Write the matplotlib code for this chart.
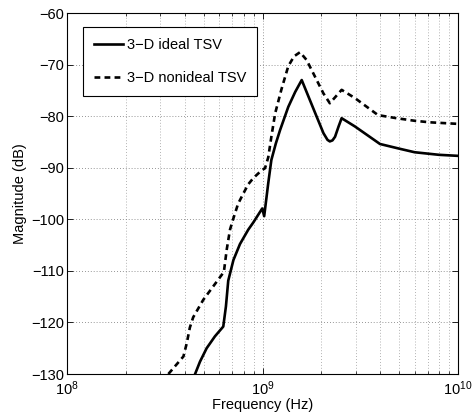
import matplotlib
matplotlib.use("Agg")
import matplotlib.pyplot as plt
import numpy as np
from matplotlib.ticker import LogLocator, MultipleLocator, NullFormatter

plt.rcParams['font.family'] = ['Liberation Sans', 'DejaVu Sans']

# Data
freq_ideal = [4.52e8, 4.79e8, 5.18e8, 5.71e8, 6.3e8, 6.5e8, 6.68e8, 7.1e8, 7.67e8,
              8.46e8, 8.98e8, 9.97e8, 1.02e9, 1.07e9, 1.11e9, 1.17e9, 1.23e9,
              1.355e9, 1.47e9, 1.587e9, 1.86e9, 2.05e9, 2.15e9, 2.21e9, 2.28e9,
              2.35e9, 2.45e9, 2.54e9, 2.97e9, 3.99e9, 5.0e9, 6.0e9, 8.0e9, 1.0e10]
mag_ideal = [-130.0, -127.6, -125.0, -122.7, -120.8, -116.9, -111.9, -107.9, -104.8,
             -102.0, -100.6, -97.9, -99.4, -93.0, -88.5, -85.3, -82.7,
             -78.2, -75.3, -73.0, -79.4, -83.3, -84.6, -84.9, -84.7,
             -84.0, -82.0, -80.4, -82.0, -85.4, -86.3, -87.0, -87.5, -87.7]

freq_nonideal = [3.3e8, 3.94e8, 4.1e8, 4.25e8, 4.42e8, 4.98e8, 5.6e8, 6.18e8, 6.35e8, 6.56e8,
                 6.82e8, 7.1e8, 7.5e8, 7.98e8, 8.46e8, 8.98e8, 9.9e8, 1.03e9,
                 1.07e9, 1.11e9, 1.16e9, 1.25e9, 1.355e9, 1.45e9, 1.556e9, 1.68e9,
                 2.05e9, 2.21e9, 2.54e9, 2.97e9, 3.9e9, 4.85e9, 6.0e9, 7.2e9, 1.0e10]
mag_nonideal = [-130.0, -126.6, -124.0, -121.0, -119.0, -115.6, -113.0, -110.8, -110.1, -105.9,
                -102.0, -99.8, -97.0, -95.0, -93.2, -92.0, -90.5, -90.1,
                -88.0, -84.0, -79.5, -74.8, -70.3, -68.4, -67.6, -69.1,
                -75.6, -77.5, -74.9, -76.5, -79.8, -80.4, -80.9, -81.2, -81.5]

labels = ['3\u2212D ideal TSV', '3\u2212D nonideal TSV']

fig = plt.figure(figsize=(4.73, 4.15), dpi=100)
ax = fig.add_axes([67/473, 41/415, 391/473, 361/415])

ax.semilogx(freq_ideal, mag_ideal, color='black', lw=1.9, label=labels[0])
ax.semilogx(freq_nonideal, mag_nonideal, color='black', lw=1.9,
            linestyle=(0, (2.2, 1.6)), label=labels[1])

ax.set_xlim(1e8, 1e10)
ax.set_ylim(-130, -60)
ax.yaxis.set_major_locator(MultipleLocator(10))
ax.xaxis.set_major_locator(LogLocator(base=10, numticks=10))
ax.xaxis.set_minor_locator(LogLocator(base=10, subs=np.arange(2, 10), numticks=20))
ax.xaxis.set_minor_formatter(NullFormatter())

ax.grid(True, which='major', linestyle=(0, (1, 2.5)), color='0.45', lw=0.6)
ax.grid(True, which='minor', axis='x', linestyle=(0, (1, 2.5)), color='0.6', lw=0.6)

ax.tick_params(which='both', direction='in', top=True, right=True, labelsize=10.5)
ax.tick_params(which='major', length=4, width=0.6)
ax.tick_params(axis='y', which='major', pad=2)
ax.tick_params(axis='x', which='major', pad=4)
ax.tick_params(which='minor', length=2, width=0.5)
for s in ax.spines.values():
    s.set_linewidth(0.8)

ax.set_xlabel('Frequency (Hz)', fontsize=10.5, labelpad=0)
ax.set_ylabel('Magnitude (dB)', fontsize=10.5, labelpad=3)

leg = ax.legend(loc='upper left', bbox_to_anchor=((83-67)/391, (374-27)/361),
                fontsize=10.5, fancybox=False, edgecolor='black', framealpha=1,
                handlelength=2.0, borderpad=0.75, labelspacing=1.3,
                handletextpad=0.25, borderaxespad=0)
leg.get_frame().set_linewidth(0.8)

fig.savefig('out.png', dpi=100)
